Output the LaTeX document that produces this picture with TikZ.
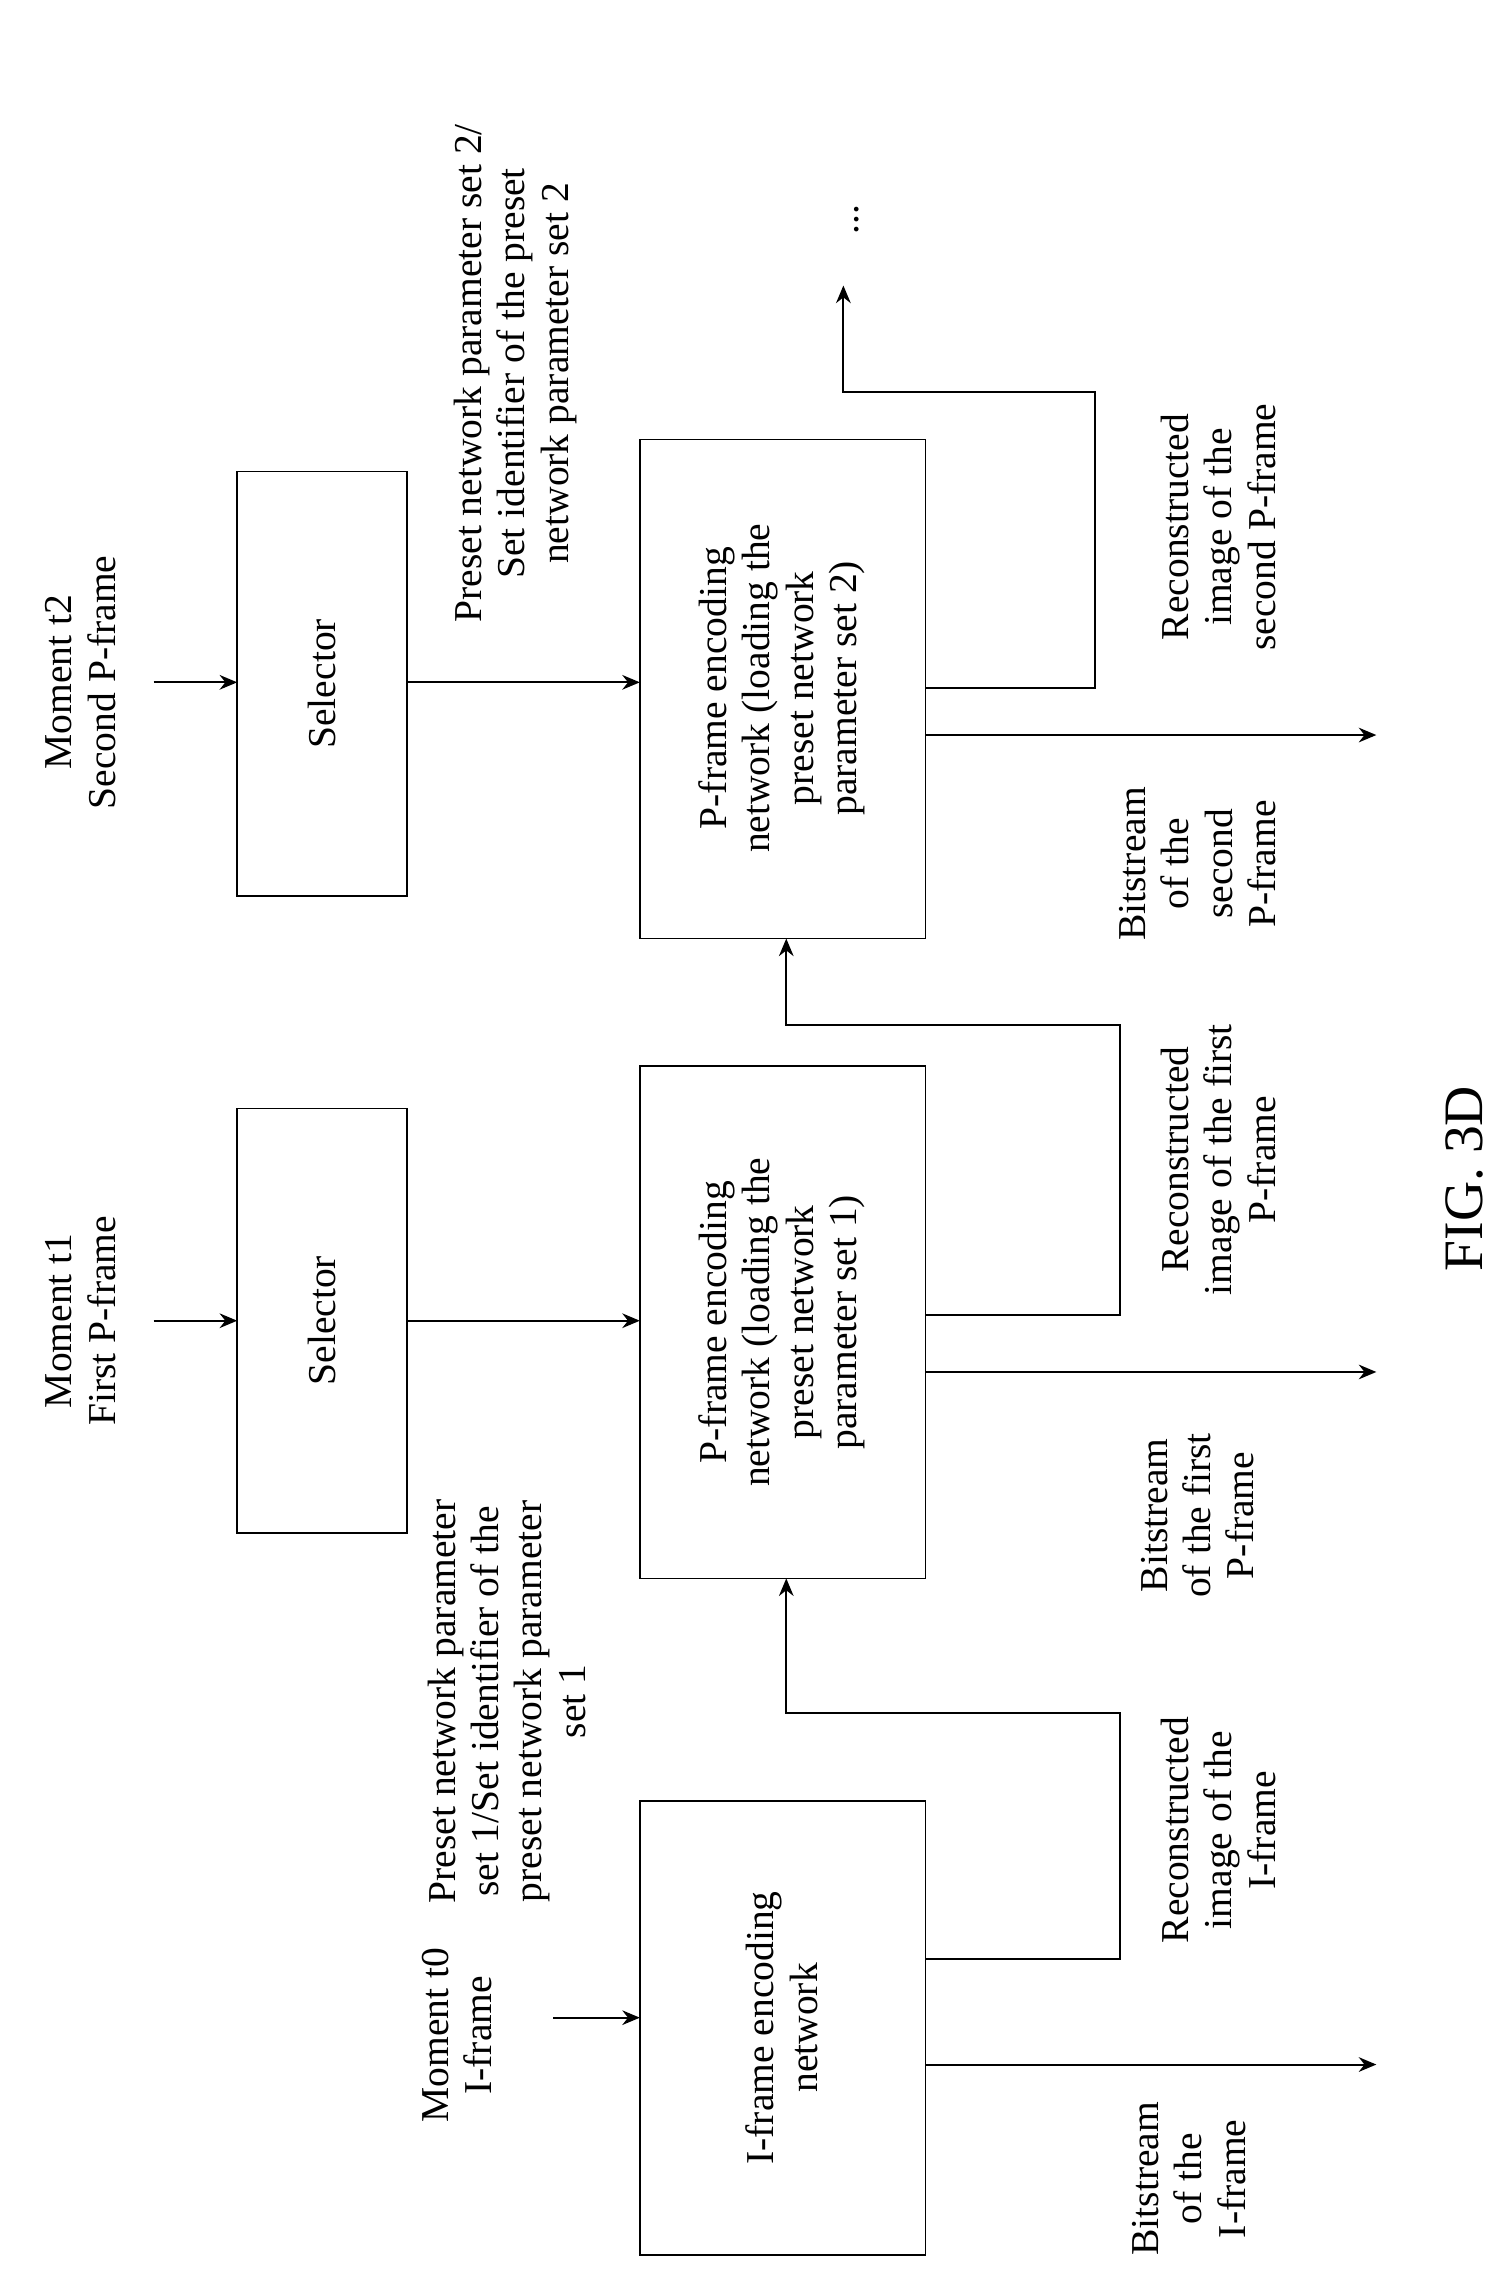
\documentclass[tikz,border=0pt]{standalone}
\usepackage{fontspec}
\setmainfont{Liberation Serif}
\usetikzlibrary{arrows.meta}
\begin{document}
\begin{tikzpicture}[x=0.5pt,y=-0.5pt,
  box/.style={draw,line width=0.5pt},
  lab/.style={rotate=90,align=center,font=\fontsize{13.5}{14.8}\selectfont,inner sep=0pt},
  arr/.style={-{Stealth[length=6pt,width=5pt]},line width=0.7pt},
  ln/.style={line width=0.7pt}]
\useasboundingbox (0,0) rectangle (1024,1564);
% boxes
\draw[box] (437,1230) rectangle (632,1540);
\node[lab] (I) at (534,1385) {I-frame encoding\\network};
\draw[box] (437,728) rectangle (632,1078);
\node[lab] (P1) at (534,903) {P-frame encoding\\network (loading the\\preset network\\parameter set 1)};
\draw[box] (437,300) rectangle (632,641);
\node[lab] (P2) at (534,470) {P-frame encoding\\network (loading the\\preset network\\parameter set 2)};
\draw[box] (162,757) rectangle (278,1047);
\node[lab] (S1) at (220,902) {Selector};
\draw[box] (162,322) rectangle (278,612);
\node[lab] (S2) at (220,467) {Selector};
% inputs
\coordinate (a0) at (378,1378); \coordinate (b0) at (437,1378);
\draw[arr] (a0) -- (b0);
\node[lab] (t0) at (312,1390) {Moment t0\\I-frame};
\coordinate (a1) at (105,902); \coordinate (b1) at (162,902);
\draw[arr] (a1) -- (b1);
\node[lab] (t1) at (55,902) {Moment t1\\First P-frame};
\coordinate (a2) at (105,466); \coordinate (b2) at (162,466);
\draw[arr] (a2) -- (b2);
\node[lab] (t2) at (55,466) {Moment t2\\Second P-frame};
% selector to P
\coordinate (c1) at (278,902); \coordinate (d1) at (437,902);
\draw[arr] (c1) -- (d1);
\node[lab] (l1) at (346,1162) {Preset network parameter\\set 1/Set identifier of the\\preset network parameter\\set 1};
\coordinate (c2) at (278,466); \coordinate (d2) at (437,466);
\draw[arr] (c2) -- (d2);
\node[lab] (l2) at (352,255) {Preset network parameter set 2/\\Set identifier of the preset\\network parameter set 2};
% outputs
\coordinate (e0) at (632,1410); \coordinate (f0) at (940,1410);
\draw[arr] (e0) -- (f0);
\node[lab] (bI) at (812,1488) {Bitstream\\of the\\I-frame};
\coordinate (e1) at (632,937); \coordinate (f1) at (940,937);
\draw[arr] (e1) -- (f1);
\node[lab] (bP1) at (818,1035) {Bitstream\\of the first\\P-frame};
\coordinate (e2) at (632,502); \coordinate (f2) at (940,502);
\draw[arr] (e2) -- (f2);
\node[lab] (bP2) at (818,590) {Bitstream\\of the\\second\\P-frame};
% recon
\coordinate (r0) at (632,1338); \coordinate (r0t) at (537,1078);
\draw[arr] (r0) -- (765,1338) -- (765,1170) -- (537,1170) -- (r0t);
\node[lab] (rI) at (832,1250) {Reconstructed\\image of the\\I-frame};
\coordinate (r1) at (632,898); \coordinate (r1t) at (537,641);
\draw[arr] (r1) -- (765,898) -- (765,700) -- (537,700) -- (r1t);
\node[lab] (rP1) at (832,792) {Reconstructed\\image of the first\\P-frame};
\coordinate (r2) at (632,470); \coordinate (r2t) at (576,195);
\draw[arr] (r2) -- (748,470) -- (748,268) -- (576,268) -- (r2t);
\node[lab] (rP2) at (832,360) {Reconstructed\\image of the\\second P-frame};
\node[lab] (dots) at (585,150) {...};
\node[rotate=90,font=\fontsize{19}{22}\selectfont] (fig) at (1000,805) {FIG. 3D};
\end{tikzpicture}
\end{document}
